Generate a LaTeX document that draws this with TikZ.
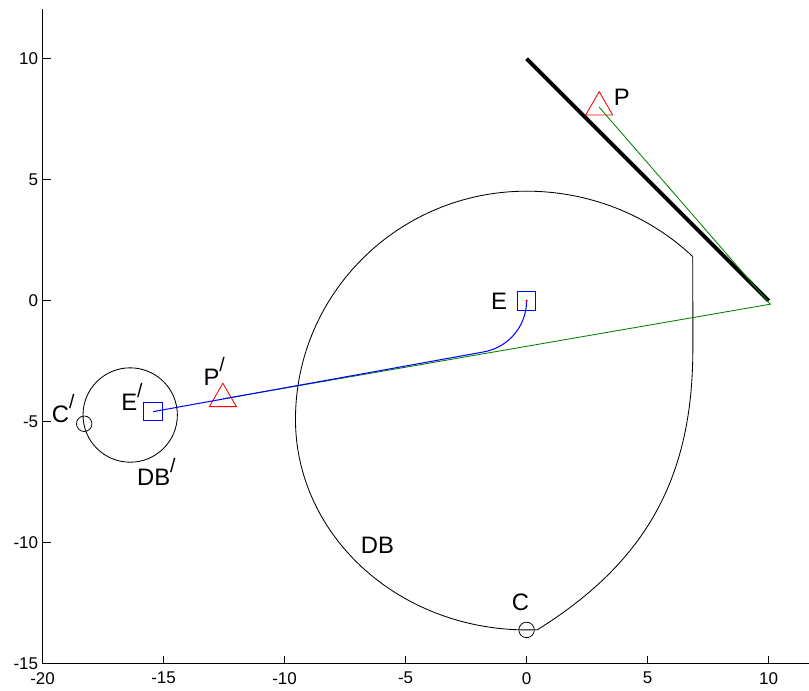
\documentclass[tikz,border=0pt]{standalone}
\usepackage{fontspec}
\setmainfont{Liberation Sans}
\usetikzlibrary{shapes.geometric}
\definecolor{mgreen}{rgb}{0,0.5,0}
\newcommand{\mypr}{\raisebox{7.8pt}{\fontsize{11.5}{12}\selectfont /}}
\begin{document}
\begin{tikzpicture}[scale=0.5,
  axisline/.style={line width=0.6pt, black},
  ticklab/.style={font=\fontsize{10}{12}\selectfont, inner sep=0pt},
  lab/.style={font=\fontsize{14}{16}\selectfont, inner sep=0pt, anchor=base west},
  sqmark/.style={draw=blue, rectangle, minimum size=10.9pt, inner sep=0pt, line width=0.5pt},
  trimark/.style={draw=red, regular polygon, regular polygon sides=3, minimum size=18.3pt, inner sep=0pt, line width=0.5pt},
  cmark/.style={draw=black, circle, minimum size=9.1pt, inner sep=0pt, line width=0.45pt},
  curve/.style={line width=0.5pt, black},
  ray/.style={line width=0.5pt, mgreen},
  epath/.style={line width=0.6pt, blue},
  mirror/.style={line width=2.3pt, black}]
\useasboundingbox (-21.76,-16.11) rectangle (11.67,12.43);
% axes
\coordinate (O) at (-20,-15);
\coordinate (Ytop) at (-20,12.04);
\coordinate (Xend) at (11.67,-15);
\draw[axisline] (Ytop) -- (O) -- (Xend);
\foreach \y in {-15,-10,...,10} {
  \draw[axisline] (-20,\y) -- ++(0.33,0);
  \node[ticklab, anchor=east] (yt\y) at (-20.17,\y) {\y};
}
\foreach \x in {-20,-15,...,10} {
  \draw[axisline] (\x,-15) -- ++(0,0.33);
  \node[ticklab, anchor=north] (xt\x) at (\x,-15.33) {\x};
}
% DB region
\coordinate (DBo) at (0,-4.9);
\draw[curve] (DBo) ++(45.5:9.8 and 9.43)
  arc[start angle=45.5, end angle=90, x radius=9.8, y radius=9.43]
  arc[start angle=90, end angle=180, x radius=9.55, y radius=9.43]
  arc[start angle=180, end angle=272.7, x radius=9.55, y radius=8.7]
  .. controls (4.94,-10.79) and (6.87,-7.31) .. (6.87,-2) -- cycle;
% DB' circle
\coordinate (DBc) at (-16.38,-4.72);
\draw[curve] (DBc) circle[radius=1.95];
% mirror
\coordinate (M1) at (0,10);
\coordinate (M2) at (10,0);
\draw[mirror] (M1) -- (M2);
% markers
\node[trimark] (P) at (3,8) {};
\node[trimark] (Pp) at (-12.55,-4.05) {};
\node[sqmark] (E) at (0,0) {};
\node[sqmark] (Ep) at (-15.43,-4.58) {};
\node[cmark] (C) at (0,-13.6) {};
\node[cmark] (Cp) at (-18.28,-5.08) {};
\coordinate (R) at (10.07,-0.14);
% rays
\draw[ray] (P.center) -- (R) -- (Pp.center);
\draw[epath] (E.center) arc[start angle=0, end angle=-80.5, radius=2.145] -- (Ep.center);
\fill[red] (E.center) circle[radius=0.05];
% labels
\node[lab] (lP) at (3.59,8.07) {P};
\node[lab] (lE) at (-1.48,-0.36) {E};
\node[lab] (lPp) at (-13.36,-3.49) {P\mypr};
\node[lab] (lEp) at (-16.76,-4.53) {E\mypr};
\node[lab] (lCp) at (-19.63,-5.01) {C\mypr};
\node[lab] (lDBp) at (-16.11,-7.63) {DB\mypr};
\node[lab] (lDB) at (-6.86,-10.46) {DB};
\node[lab] (lC) at (-0.62,-12.8) {C};
\end{tikzpicture}
\end{document}
